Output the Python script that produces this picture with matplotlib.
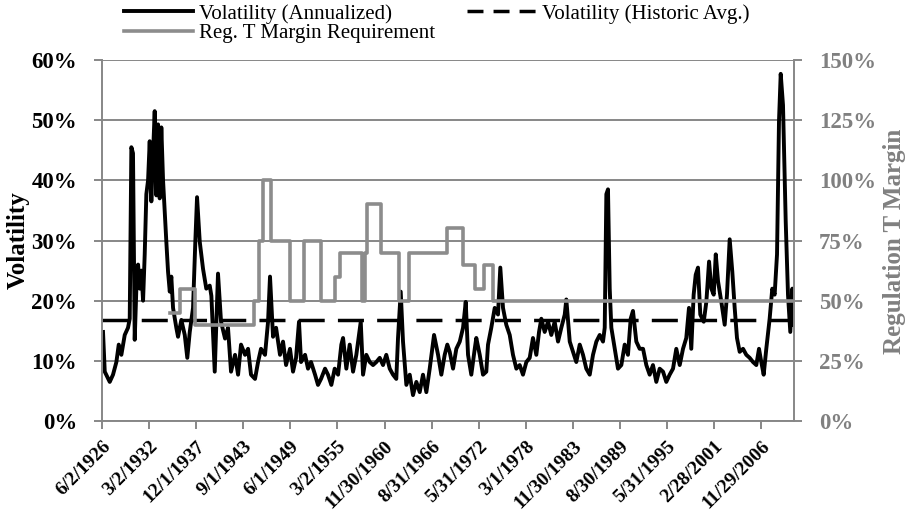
import matplotlib

matplotlib.use("Agg")
import matplotlib.pyplot as plt
import pandas as pd
from matplotlib.lines import Line2D
from matplotlib.ticker import PercentFormatter

# annualized volatility (%), x in decimal years
vol_years = [
    1926.54, 1926.75, 1927.36, 1927.76, 1928.17, 1928.46, 1928.78, 1929.19, 1929.59, 1929.80,
    1930.00, 1930.20, 1930.41, 1930.61, 1930.82, 1931.02, 1931.22, 1931.43, 1931.63, 1931.83,
    1932.04, 1932.24, 1932.44, 1932.65, 1932.85, 1933.05, 1933.26, 1933.46, 1933.66, 1933.87,
    1934.27, 1934.48, 1934.69, 1934.88, 1935.09, 1935.49, 1935.70, 1936.10, 1936.52, 1936.83,
    1937.13, 1937.53, 1937.81, 1938.02, 1938.35, 1938.75, 1939.15, 1939.57, 1939.77, 1940.18,
    1940.58, 1940.95, 1941.44, 1941.80, 1942.17, 1942.66, 1943.03, 1943.39, 1943.88, 1944.25,
    1944.61, 1945.10, 1945.47, 1945.83, 1946.32, 1946.69, 1946.93, 1947.30, 1947.67, 1948.15,
    1948.52, 1948.89, 1949.37, 1949.74, 1950.11, 1950.47, 1950.72, 1951.21, 1951.57, 1951.94,
    1952.43, 1952.79, 1953.16, 1953.65, 1954.01, 1954.42, 1954.83, 1955.24, 1955.64, 1955.85,
    1956.25, 1956.66, 1957.07, 1957.47, 1958.01, 1958.29, 1958.69, 1959.11, 1959.51, 1959.91,
    1960.33, 1960.73, 1961.13, 1961.55, 1961.95, 1962.35, 1962.56, 1962.89, 1963.17, 1963.58,
    1963.99, 1964.39, 1964.80, 1965.21, 1965.61, 1966.02, 1966.43, 1966.96, 1967.45, 1967.85,
    1968.26, 1968.58, 1968.87, 1969.28, 1969.68, 1970.10, 1970.50, 1970.83, 1971.11, 1971.51,
    1971.93, 1972.12, 1972.54, 1972.94, 1973.34, 1973.55, 1973.95, 1974.37, 1974.77, 1975.05,
    1975.38, 1975.78, 1976.20, 1976.60, 1977.01, 1977.42, 1977.82, 1978.23, 1978.64, 1979.04,
    1979.45, 1979.78, 1980.06, 1980.47, 1980.88, 1981.28, 1981.69, 1982.10, 1982.50, 1982.92,
    1983.11, 1983.53, 1983.93, 1984.33, 1984.75, 1985.15, 1985.55, 1985.97, 1986.37, 1986.78,
    1987.19, 1987.59, 1987.80, 1988.00, 1988.20, 1988.41, 1988.61, 1989.02, 1989.42, 1989.83,
    1990.24, 1990.64, 1990.97, 1991.25, 1991.66, 1992.07, 1992.48, 1992.88, 1993.29, 1993.69,
    1994.10, 1994.51, 1994.92, 1995.32, 1995.73, 1996.14, 1996.54, 1996.96, 1997.36, 1997.76,
    1998.09, 1998.37, 1998.66, 1998.91, 1999.19, 1999.47, 1999.89, 2000.21, 2000.54, 2000.82,
    2001.11, 2001.36, 2001.64, 2002.04, 2002.45, 2002.73, 2003.06, 2003.38, 2003.67, 2003.95,
    2004.28, 2004.69, 2005.09, 2005.50, 2005.91, 2006.31, 2006.64, 2006.92, 2007.21, 2007.53,
    2007.94, 2008.26, 2008.55, 2008.84, 2009.08, 2009.29, 2009.57, 2009.90, 2010.18, 2010.46,
    2010.71, 2010.91,
]
vol_pct = [
    14.8, 8.2, 6.5, 7.7, 9.8, 12.7, 11.0, 14.3, 15.5, 17.0,
    45.5, 44.5, 13.5, 22.0, 26.0, 22.0, 25.0, 20.0, 27.7, 37.7,
    40.0, 46.5, 36.5, 44.5, 51.5, 37.5, 49.3, 37.0, 48.8, 40.0,
    29.8, 24.8, 21.5, 24.0, 18.8, 15.5, 14.0, 16.8, 14.3, 10.5,
    14.8, 18.8, 29.8, 37.2, 29.8, 25.3, 22.0, 22.5, 20.8, 8.2,
    24.5, 16.5, 13.7, 15.5, 8.2, 11.0, 7.7, 12.7, 11.0, 12.0,
    7.7, 7.0, 9.8, 12.0, 11.0, 16.5, 24.0, 14.0, 15.5, 11.0,
    13.2, 9.3, 12.0, 8.2, 10.5, 16.5, 9.8, 11.0, 8.7, 9.8,
    7.7, 6.0, 7.0, 8.7, 7.7, 6.0, 8.7, 7.7, 12.7, 13.8,
    8.7, 12.7, 8.2, 11.0, 16.5, 7.7, 11.0, 9.8, 9.3, 9.8,
    10.5, 9.3, 11.0, 8.7, 7.7, 7.0, 13.8, 21.5, 13.2, 6.0,
    7.7, 4.3, 6.5, 4.8, 7.7, 4.8, 8.7, 14.3, 11.0, 7.7,
    11.0, 12.7, 11.5, 8.7, 12.0, 13.2, 15.5, 19.8, 11.0, 7.7,
    12.0, 13.8, 11.0, 7.7, 8.2, 12.7, 15.5, 18.8, 17.7, 25.5,
    18.8, 16.0, 14.3, 11.0, 8.7, 9.3, 7.7, 9.8, 10.5, 13.8,
    11.0, 14.8, 17.0, 14.8, 16.5, 14.3, 16.5, 13.2, 15.5, 17.7,
    20.2, 13.2, 11.5, 9.8, 12.7, 11.0, 8.7, 7.7, 11.0, 13.2,
    14.3, 13.2, 15.5, 37.7, 38.5, 22.0, 15.5, 12.0, 8.7, 9.3,
    12.7, 11.0, 17.0, 18.3, 13.2, 12.0, 12.0, 9.3, 7.7, 9.3,
    6.5, 8.7, 8.2, 6.5, 7.7, 8.7, 12.0, 9.3, 12.0, 13.8,
    18.8, 12.0, 21.0, 24.3, 25.5, 17.7, 16.5, 19.8, 26.5, 22.0,
    21.0, 27.7, 23.2, 19.8, 16.0, 21.0, 30.2, 24.8, 18.8, 13.8,
    11.5, 12.0, 11.0, 10.5, 9.8, 9.3, 12.0, 9.8, 7.7, 12.0,
    17.0, 22.0, 21.0, 27.7, 49.8, 57.7, 52.5, 33.2, 21.0, 14.8,
    22.0, 16.0,
]
hist_avg_pct = 16.8

# Reg. T initial margin requirement (%), value holds from each change date
margin_years = [
    1934.72, 1935.94, 1937.78, 1944.98, 1945.59, 1946.08, 1947.06, 1949.37,
    1951.08, 1953.16, 1954.87, 1955.48, 1958.17, 1958.53, 1958.78, 1960.49,
    1962.69, 1963.91, 1968.55, 1970.50, 1971.96, 1973.06, 1974.16,
]
margin_pct = [
    45, 55, 40, 50, 75, 100, 75, 50,
    75, 50, 60, 70, 50, 70, 90, 70,
    50, 70, 80, 65, 55, 65, 50,
]
x_end = 2010.91

tick_labels = [
    "6/2/1926", "3/2/1932", "12/1/1937", "9/1/1943", "6/1/1949",
    "3/2/1955", "11/30/1960", "8/31/1966", "5/31/1972", "3/1/1978",
    "11/30/1983", "8/30/1989", "5/31/1995", "2/28/2001", "11/29/2006",
]


def to_year(s):
    d = pd.to_datetime(s, format="%m/%d/%Y")
    return d.year + (d.dayofyear - 1) / 365.25


tick_pos = [to_year(s) for s in tick_labels]

GRID = "#878787"
MARGIN = "#8c8c8c"
RTEXT = "#808080"

plt.rcParams["font.family"] = ["Liberation Serif", "DejaVu Serif"]
plt.rcParams["font.weight"] = "bold"

fig = plt.figure(figsize=(9.10, 5.19), dpi=100)
ax = fig.add_axes([0.1121, 0.1888, 0.7604, 0.6956])
ax2 = ax.twinx()

ax.set_xlim(tick_pos[0], x_end)
ax.set_ylim(0, 60)
ax2.set_ylim(0, 150)

ax.set_yticks(range(0, 61, 10))
ax2.set_yticks(range(0, 151, 25))
ax.yaxis.set_major_formatter(PercentFormatter(decimals=0))
ax2.yaxis.set_major_formatter(PercentFormatter(decimals=0))
ax.yaxis.grid(True, color=GRID, lw=1.4)
ax.set_axisbelow(True)

ax.plot(vol_years, vol_pct, color="black", lw=2.8, solid_joinstyle="round")
ax.plot([tick_pos[0], x_end], [hist_avg_pct, hist_avg_pct], color="black",
        lw=2.5, dashes=(7.5, 3.8))
ax2.step(margin_years + [x_end], margin_pct + [margin_pct[-1]], where="post",
         color=MARGIN, lw=2.6)

ax.set_xticks(tick_pos)
ax.set_xticklabels(tick_labels, rotation=45, ha="right", rotation_mode="anchor",
                   fontsize=14)
ax.tick_params(axis="x", length=6, width=1.4, color=GRID, pad=6)
ax.tick_params(axis="y", length=6, width=1.4, color=GRID, pad=12, labelsize=16.5)
ax2.tick_params(axis="y", length=6, width=1.4, color=GRID, pad=12, labelsize=16.5,
                labelcolor=RTEXT)

for s in ("top", "right"):
    ax.spines[s].set_visible(False)
for s in ("top", "left", "bottom"):
    ax2.spines[s].set_visible(False)
for sp in (ax.spines["left"], ax.spines["bottom"], ax2.spines["right"]):
    sp.set_color(GRID)
    sp.set_linewidth(1.4)

fig.text(18 / 910, 1 - 240 / 519, "Volatility", rotation=90, ha="center",
         va="center", fontsize=18)
fig.text(894 / 910, 1 - 241 / 519, "Regulation T Margin", rotation=90,
         ha="center", va="center", fontsize=18, color=RTEXT)

handles = [
    Line2D([], [], color="black", lw=2.8),
    Line2D([], [], color=MARGIN, lw=2.6),
    Line2D([], [], color="black", lw=2.5, dashes=(4.6, 2.9)),
]
labels = ["Volatility (Annualized)", "Reg. T Margin Requirement",
          "Volatility (Historic Avg.)"]
fig.legend(handles, labels, ncol=2, loc="upper left",
           bbox_to_anchor=(124 / 910, 1 - 4 / 519), frameon=False,
           prop={"family": "Liberation Serif", "weight": "normal", "size": 15},
           handlelength=3.3, handletextpad=0.3, columnspacing=1.55,
           labelspacing=0.0, borderpad=0, borderaxespad=0)

fig.savefig("out.png", dpi=100)
plt.close(fig)
